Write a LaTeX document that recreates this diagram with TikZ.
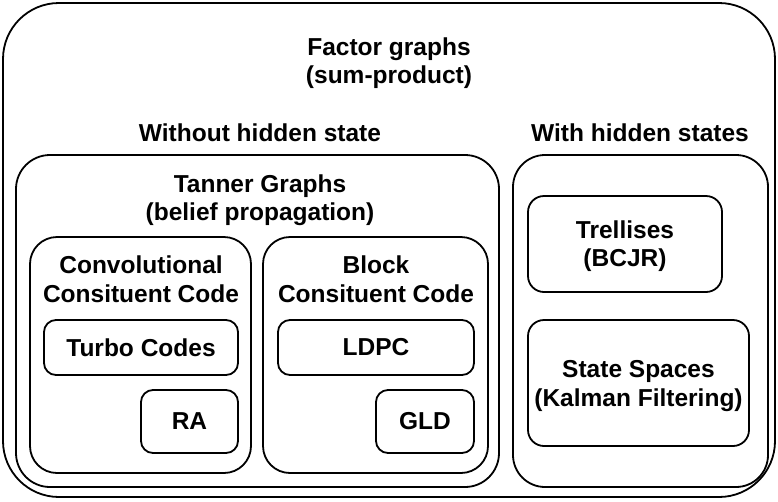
\documentclass[tikz,border=0pt]{standalone}
\usepackage{fontspec}
\setmainfont{Liberation Sans}
\usetikzlibrary{fit}
\begin{document}
\begin{tikzpicture}[x=1pt,y=-1pt,
  box/.style={draw=black,line width=1.8pt,inner sep=0pt},
  lbl/.style={font=\bfseries\fontsize{24.5}{28.5}\selectfont,align=center,inner sep=0pt}]
\useasboundingbox (0,0) rectangle (778,501);
% containers
\node[box,rounded corners=56pt,fit={(3,3) (775,497)}] (outer) {};
\node[box,rounded corners=34pt,fit={(16,155) (499,487)}] (nohidden) {};
\node[box,rounded corners=32pt,fit={(513,155) (768,487)}] (hidden) {};
\node[box,rounded corners=27pt,fit={(30,237) (251,473)}] (conv) {};
\node[box,rounded corners=27pt,fit={(263,237) (488,473)}] (block) {};
% leaf boxes
\node[box,rounded corners=12pt,fit={(44,320) (238,375)}] (turbo) {};
\node[box,rounded corners=12pt,fit={(141,390) (238,453)}] (ra) {};
\node[box,rounded corners=12pt,fit={(278,320) (474,375)}] (ldpc) {};
\node[box,rounded corners=12pt,fit={(376,390) (474,453)}] (gld) {};
\node[box,rounded corners=16pt,fit={(528,196) (722,292)}] (trellis) {};
\node[box,rounded corners=16pt,fit={(528,320) (749,446)}] (state) {};
% labels
\node[lbl] (tfg) at (389,63) {Factor graphs\\(sum-product)};
\node[lbl] (tnh) at (260,133) {Without hidden state};
\node[lbl] (twh) at (640,133) {With hidden states};
\node[lbl] (ttg) at (260,200) {Tanner Graphs\\(belief propagation)};
\node[lbl] (tcv) at (141,279) {Convolutional\\Consituent Code};
\node[lbl] (tbl) at (376,279) {Block\\Consituent Code};
\node[lbl] at (turbo.center) {Turbo Codes};
\node[lbl] at (ra.center) {RA};
\node[lbl] at (ldpc.center) {LDPC};
\node[lbl] at (gld.center) {GLD};
\node[lbl] at ([yshift=-2pt]trellis.center) {Trellises\\(BCJR)};
\node[lbl] at ([yshift=-3pt]state.center) {State Spaces\\(Kalman Filtering)};
\end{tikzpicture}
\end{document}
